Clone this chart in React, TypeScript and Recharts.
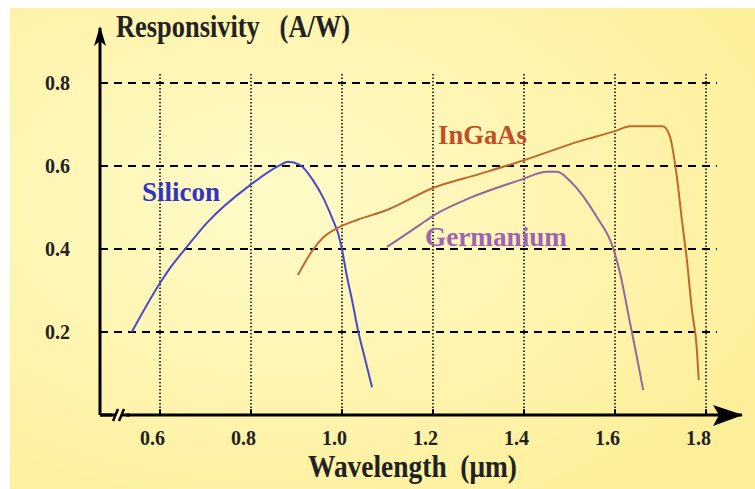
import React from 'react';
import { LineChart, Line, XAxis, YAxis, ReferenceLine } from 'recharts';

// Wavelength (µm) and responsivity (A/W)
const siliconWavelength = [0.538, 0.6, 0.622, 0.659, 0.703, 0.798, 0.864, 0.881, 0.908, 0.936, 0.958, 0.98, 0.991, 1.0, 1.011, 1.022, 1.035, 1.051, 1.066];
const siliconResponse = [0.2, 0.318, 0.354, 0.405, 0.463, 0.554, 0.602, 0.61, 0.602, 0.566, 0.525, 0.47, 0.439, 0.398, 0.333, 0.277, 0.205, 0.133, 0.067];

const ingaasWavelength = [0.903, 0.936, 0.958, 0.991, 1.033, 1.099, 1.2, 1.303, 1.4, 1.523, 1.6, 1.633, 1.705, 1.721, 1.727, 1.736, 1.747, 1.758, 1.769, 1.78, 1.784];
const ingaasResponse = [0.337, 0.398, 0.427, 0.451, 0.47, 0.494, 0.547, 0.581, 0.614, 0.66, 0.684, 0.696, 0.696, 0.67, 0.639, 0.573, 0.47, 0.373, 0.253, 0.157, 0.084];

const germaniumWavelength = [1.099, 1.171, 1.2, 1.281, 1.391, 1.451, 1.473, 1.501, 1.56, 1.596, 1.611, 1.633, 1.648, 1.662];
const germaniumResponse = [0.405, 0.458, 0.48, 0.523, 0.566, 0.586, 0.586, 0.564, 0.477, 0.402, 0.342, 0.222, 0.14, 0.06];

const xTicks = [0.6, 0.8, 1.0, 1.2, 1.4, 1.6, 1.8];
const yTicks = [0.2, 0.4, 0.6, 0.8];

const X_MIN = 0.4681;
const X_MAX = 1.8791;
const Y_MAX = 0.9325;
const GRID_X_END = 1.824;
const GRID_Y_END = 0.8265;

const toPoints = (xs: number[], ys: number[]) => xs.map((x, i) => ({ x, y: ys[i] }));
const siliconData = toPoints(siliconWavelength, siliconResponse);
const ingaasData = toPoints(ingaasWavelength, ingaasResponse);
const germaniumData = toPoints(germaniumWavelength, germaniumResponse);

const FONT = '"Liberation Serif", "Times New Roman", serif';
const NB = '\u00A0';

const XTick = (props: any) => {
  const { x, y, payload } = props;
  return (
    <text x={x - 20} y={y} dy="0.71em" fontFamily={FONT} fontWeight="bold" fontSize={21} fill="#222" textLength={25} lengthAdjust="spacingAndGlyphs">
      {Number(payload.value).toFixed(1)}
    </text>
  );
};

const YTick = (props: any) => {
  const { x, y, payload } = props;
  return (
    <text x={x - 25} y={y} dy="0.35em" fontFamily={FONT} fontWeight="bold" fontSize={21} fill="#222" textLength={25} lengthAdjust="spacingAndGlyphs">
      {Number(payload.value).toFixed(1)}
    </text>
  );
};

export default function App() {
  return (
    <div style={{ position: 'absolute', left: 0, top: 0, width: 755, height: 489, background: '#fff' }}>
      <svg width={755} height={489} style={{ position: 'absolute', left: 0, top: 0 }}>
        <defs>
          <radialGradient id="bg" cx="35%" cy="40%" r="75%">
            <stop offset="0%" stopColor="#FFFBC8" />
            <stop offset="100%" stopColor="#FDEF9A" />
          </radialGradient>
        </defs>
        <rect x={10} y={8} width={745} height={481} fill="url(#bg)" />
      </svg>
      <div style={{ position: 'absolute', left: 0, top: 0 }}>
        <LineChart width={755} height={489} data={siliconData} margin={{ top: 28, right: 13, left: 0, bottom: 44 }}>
          <XAxis
            type="number"
            dataKey="x"
            domain={[X_MIN, X_MAX]}
            ticks={xTicks}
            allowDataOverflow
            axisLine={{ stroke: '#000', strokeWidth: 3 }}
            tickLine={false}
            tickSize={6}
            tickMargin={9}
            tick={<XTick />}
            height={30}
          />
          <YAxis
            type="number"
            dataKey="y"
            domain={[0, Y_MAX]}
            ticks={yTicks}
            allowDataOverflow
            axisLine={{ stroke: '#000', strokeWidth: 3 }}
            tickLine={false}
            tickSize={6}
            tickMargin={24}
            tick={<YTick />}
            width={100}
          />
          {yTicks.map((t) => (
            <ReferenceLine key={'h' + t} segment={[{ x: X_MIN, y: t }, { x: GRID_X_END, y: t }]} stroke="#000" strokeWidth={2} strokeDasharray="8 6" ifOverflow="visible" />
          ))}
          {xTicks.map((t) => (
            <ReferenceLine key={'v' + t} segment={[{ x: t, y: 0 }, { x: t, y: GRID_Y_END }]} stroke="#000" strokeWidth={1.5} strokeDasharray="1.5 2" ifOverflow="visible" />
          ))}
          {yTicks.map((t) => (
            <ReferenceLine key={'ty' + t} segment={[{ x: X_MIN, y: t }, { x: X_MIN + 0.014, y: t }]} stroke="#000" strokeWidth={2} ifOverflow="visible" />
          ))}
          {xTicks.map((t) => (
            <ReferenceLine key={'tx' + t} segment={[{ x: t, y: 0 }, { x: t, y: 0.014 }]} stroke="#000" strokeWidth={2} ifOverflow="visible" />
          ))}
          <Line data={siliconData} dataKey="y" type="monotone" stroke="#4A4AC8" strokeWidth={2} dot={false} isAnimationActive={false} />
          <Line data={ingaasData} dataKey="y" type="monotone" stroke="#C0692E" strokeWidth={2} dot={false} isAnimationActive={false} />
          <Line data={germaniumData} dataKey="y" type="monotone" stroke="#91679F" strokeWidth={2} dot={false} isAnimationActive={false} />
        </LineChart>
      </div>
      <svg width={755} height={489} style={{ position: 'absolute', left: 0, top: 0, pointerEvents: 'none' }}>
        {/* axis arrowheads */}
        <polygon points="100,26 94,46 100,41 106,46" fill="#000" />
        <polygon points="743,415 713,405 719,415 713,426" fill="#000" />
        {/* axis break */}
        <rect x={112} y={411} width={14} height={8} fill="#FFF8BA" />
        <line x1={113} y1={421} x2={118} y2={409} stroke="#000" strokeWidth={2.5} />
        <line x1={119} y1={421} x2={124} y2={409} stroke="#000" strokeWidth={2.5} />
        <line x1={100} y1={415} x2={115} y2={415} stroke="#000" strokeWidth={3} />
        <line x1={122} y1={415} x2={130} y2={415} stroke="#000" strokeWidth={3} />
        {/* titles */}
        <text x={116} y={37} fontFamily={FONT} fontWeight="bold" fontSize={32} fill="#222" textLength={234} lengthAdjust="spacingAndGlyphs">{`Responsivity${NB}${NB}${NB}(A/W)`}</text>
        <text x={308} y={477} fontFamily={FONT} fontWeight="bold" fontSize={31} fill="#222" textLength={209} lengthAdjust="spacingAndGlyphs">{`Wavelength${NB}${NB}(μm)`}</text>
        {/* series labels */}
        <text x={142} y={201} fontFamily={FONT} fontWeight="bold" fontSize={27} fill="#3434C4" textLength={78} lengthAdjust="spacingAndGlyphs">Silicon</text>
        <text x={438} y={144} fontFamily={FONT} fontWeight="bold" fontSize={27} fill="#C24E26" textLength={89} lengthAdjust="spacingAndGlyphs">InGaAs</text>
        <text x={425} y={246} fontFamily={FONT} fontWeight="bold" fontSize={27} fill="#A062B4" textLength={142} lengthAdjust="spacingAndGlyphs">Germanium</text>
      </svg>
    </div>
  );
}
